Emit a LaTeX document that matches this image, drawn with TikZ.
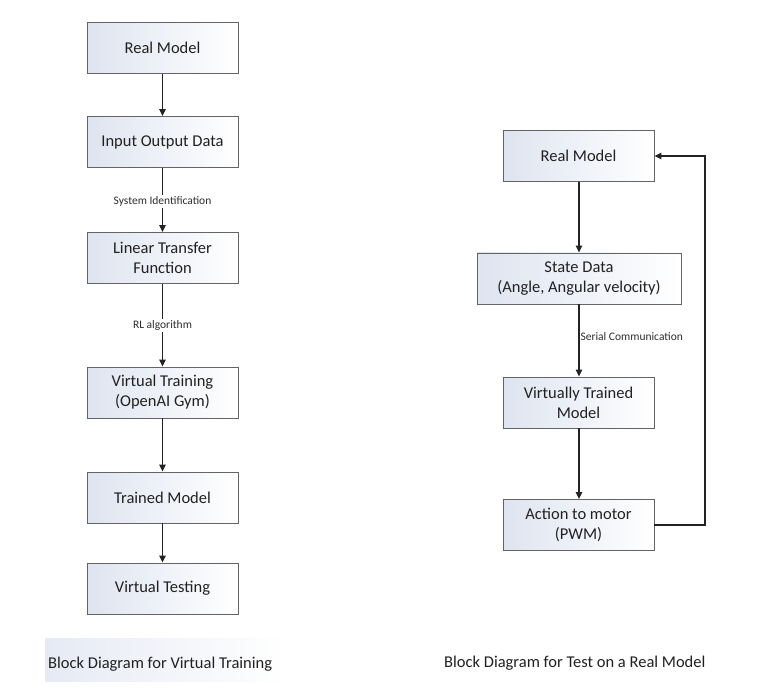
\documentclass[tikz,border=0pt]{standalone}
\usepackage{fontspec}
\setmainfont{Carlito}
\usetikzlibrary{arrows.meta}
\definecolor{boxtint}{RGB}{222,228,240}
\definecolor{boxline}{RGB}{100,100,100}
\definecolor{linkline}{RGB}{35,35,35}
\definecolor{captint}{RGB}{230,234,244}
\tikzset{
  block/.style={draw=boxline, line width=0.9pt, left color=boxtint, right color=white,
    minimum width=151pt, minimum height=51pt, align=center, inner sep=2pt,
    font=\fontsize{16.5}{20}\selectfont, text=black!87},
  link/.style={draw=linkline, line width=1.1pt, -{Triangle[length=7pt,width=6.5pt]}},
  linklabel/.style={fill=white, inner sep=1.5pt, font=\fontsize{11.5}{13}\selectfont, text=black!82},
  caption/.style={anchor=west, inner sep=0pt, font=\fontsize{16.5}{19}\selectfont, text=black!87}
}
\begin{document}
\begin{tikzpicture}[x=1pt, y=-1pt]
\useasboundingbox (0,0) rectangle (757,692);
\fill[white] (0,0) rectangle (757,692);

% Virtual training chain
\node[block] (real1)  at (162.5,48)    {Real Model};
\node[block] (iodata) at (162.5,142)   {Input Output Data};
\node[block] (ltf)    at (162.5,258)   {Linear Transfer\\Function};
\node[block] (vtrain) at (162.5,392.5) {Virtual Training\\(OpenAI Gym)};
\node[block] (tmodel) at (162.5,497.5) {Trained Model};
\node[block] (vtest)  at (162.5,588.5) {Virtual Testing};

\draw[link] (real1) -- (iodata);
\draw[link] (iodata) -- node[linklabel, pos=0.52] (sysid) {System Identification} (ltf);
\draw[link] (ltf) -- node[linklabel, pos=0.5] (rlalg) {RL algorithm} (vtrain);
\draw[link] (vtrain) -- (tmodel);
\draw[link] (tmodel) -- (vtest);

% Test on the real model, with feedback loop
\node[block] (real2)  at (578.5,156)   {Real Model};
\node[block, minimum width=204pt] (state) at (579,278.5) {State Data\\(Angle, Angular velocity)};
\node[block] (vtmodel) at (578.5,402.5) {Virtually Trained\\Model};
\node[block] (action)  at (578.5,525)   {Action to motor\\(PWM)};

\draw[link] (real2.south -| state.north) -- (state);
\draw[link] (state.south) -- node[linklabel, anchor=west, pos=0.45, fill=none, xshift=-0.5pt] (serial) {Serial Communication} (vtmodel.north -| state.south);
\draw[link] (vtmodel.south -| state.south) -- (action.north -| state.south);
\coordinate (loopcorner) at (705,525);
\draw[link] (action.east) -- (loopcorner) |- (real2.east);

% Captions
\shade[left color=captint, right color=white] (45,638) rectangle (285,681);
\node[caption] (cap1) at (48,664) {Block Diagram for Virtual Training};
\node[caption] (cap2) at (444,663) {Block Diagram for Test on a Real Model};
\end{tikzpicture}
\end{document}
